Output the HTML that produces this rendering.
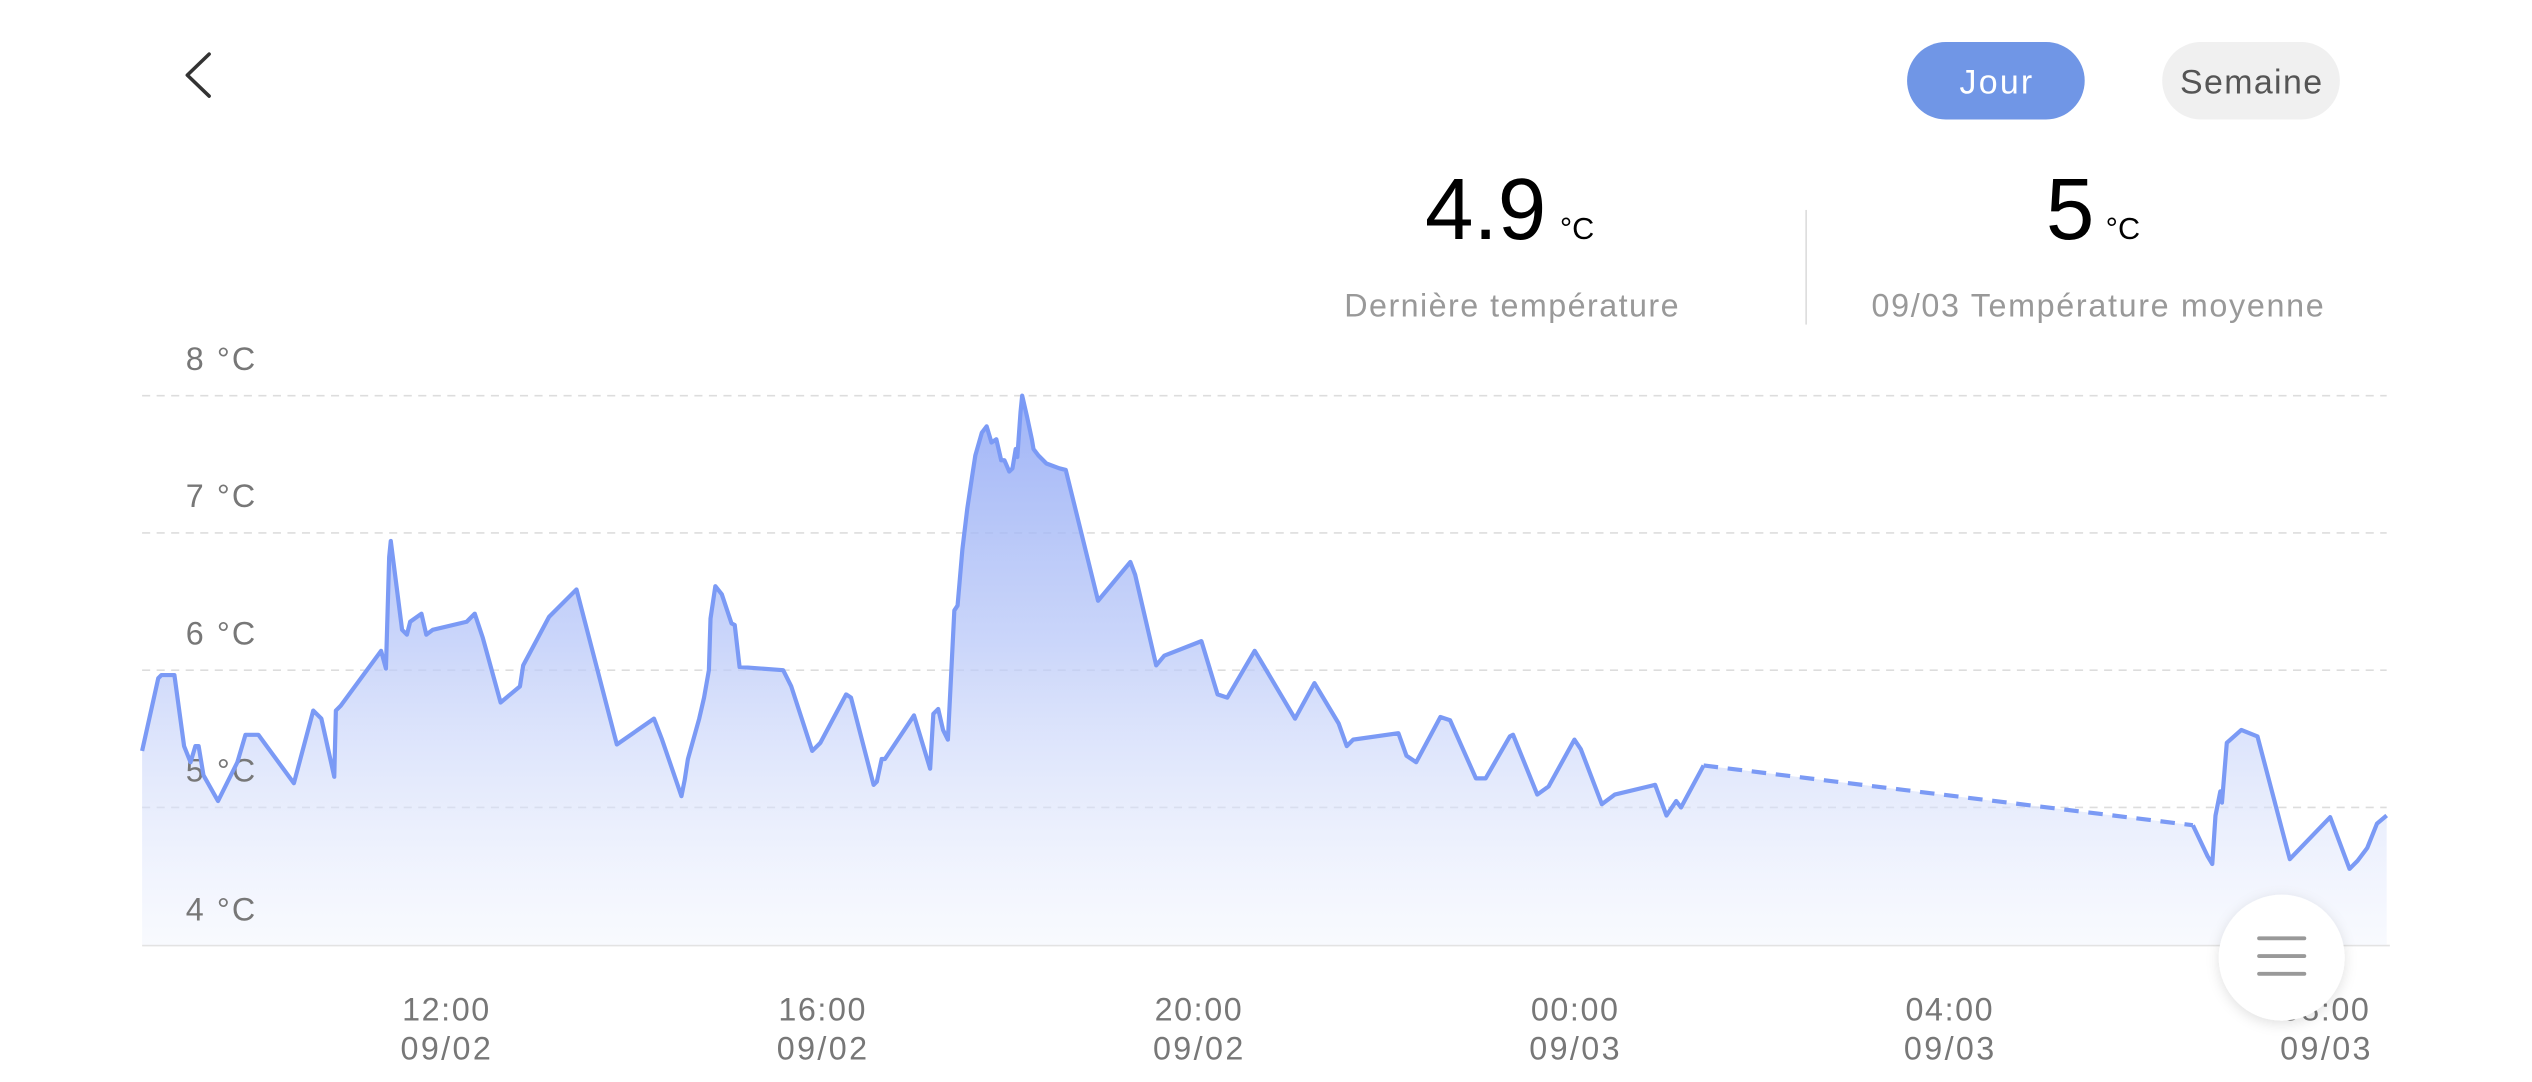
<!DOCTYPE html>
<html><head><meta charset="utf-8"><style>
html,body{margin:0;padding:0;background:#fff;width:2532px;height:1082px;overflow:hidden}
svg{display:block}
text{font-family:"Liberation Sans",sans-serif}
</style></head><body>
<svg width="2532" height="1082" viewBox="0 0 1568 670" preserveAspectRatio="none" xmlns="http://www.w3.org/2000/svg">
<defs>
<linearGradient id="g" x1="0" y1="245" x2="0" y2="585" gradientUnits="userSpaceOnUse">
<stop offset="0" stop-color="#8fa7f5" stop-opacity="0.85"/>
<stop offset="0.45" stop-color="#b9c8f8" stop-opacity="0.75"/>
<stop offset="1" stop-color="#eef2fd" stop-opacity="0.4"/>
</linearGradient>
<filter id="sh" x="-50%" y="-50%" width="200%" height="200%"><feDropShadow dx="0" dy="2" stdDeviation="4" flood-color="#000" flood-opacity="0.12"/></filter>
</defs>
<polyline points="129.5,33.5 116,46.5 129.5,59.5" fill="none" stroke="#333" stroke-width="2.2" stroke-linecap="round" stroke-linejoin="round"/>
<rect x="1181" y="26" width="110" height="48" rx="24" fill="#7096e6"/>
<text x="1236" y="58" font-size="21" fill="#fff" text-anchor="middle" textLength="45">Jour</text>
<rect x="1339" y="26" width="110" height="48" rx="24" fill="#f0f0f0"/>
<text x="1394" y="58" font-size="21" fill="#555" text-anchor="middle" textLength="88">Semaine</text>
<text x="920" y="148" font-size="54" fill="#000" text-anchor="middle">4.9</text>
<text x="966" y="148" font-size="19" fill="#000">°C</text>
<text x="936" y="196" font-size="20" fill="#999" text-anchor="middle" textLength="207">Dernière température</text>
<line x1="1118.5" y1="130" x2="1118.5" y2="201" stroke="#ddd" stroke-width="1"/>
<text x="1282" y="148" font-size="54" fill="#000" text-anchor="middle">5</text>
<text x="1304" y="148" font-size="19" fill="#000">°C</text>
<text x="1299" y="196" font-size="20" fill="#999" text-anchor="middle" textLength="280">09/03 Température moyenne</text>
<g stroke="#ddd" stroke-width="1" stroke-dasharray="5,4">
<line x1="88" y1="245" x2="1478" y2="245"/><line x1="88" y1="330" x2="1478" y2="330"/><line x1="88" y1="415" x2="1478" y2="415"/><line x1="88" y1="500" x2="1478" y2="500"/>
</g>
<line x1="88" y1="585.5" x2="1480" y2="585.5" stroke="#e3e3e3" stroke-width="1"/>
<path fill="url(#g)" d="M88,585 L88,465 98,420 100,418 108,418 114,462 118,472 121,462 123,462 126,480 135,496 147,472 152,455 160,455 182,485 194,440 199,445 207,481 208,440 211,437 236,403 239,414 241,345 242,335 249,390 252,393 254,385 261,380 264,393 268,390 289,385 294,380 299,395 310,435 322,425 324,412 340,382 357,365 382,461 405,445 410,458 422,493 424,483 426,470 433,445 436,432 439,415 440,383 443,363 447,368 453,386 455,387 458,413 485,415 490,425 503,465 508,460 524,430 527,432 541,486 543,484 546,470 548,470 566,443 576,476 578,442 581,439 584,452 587,458 591,378 593,375 596,340 599,315 602,295 604,282 608,268 611,264 614,274 617,272 620,285 622,285 625,292 627,290 629,278 630,283 632,255 633,245 636,258 639,272 640,278 643,282 648,287 656,290 660,291 680,372 700,348 703,356 716,412 721,406 744,397 754,430 760,432 777,403 780,408 802,445 814,423 829,448 834,462 838,458 866,454 871,468 877,472 892,444 898,446 914,482 920,482 935,456 937,455 952,492 959,487 975,458 979,464 992,498 1000,492 1025,486 1032,505 1038,496 1041,500 1055,474 1358,511 1367,530 1370,535 1372,505 1375,490 1376,497 1379,460 1388,452 1398,456 1418,532 1443,506 1455,538 1460,533 1466,525 1472,510 1478,505 L1478,585 Z"/>
<g font-size="20" fill="#777">
<text x="115" y="229" textLength="43">8 °C</text><text x="115" y="314" textLength="43">7 °C</text><text x="115" y="399" textLength="43">6 °C</text><text x="115" y="484" textLength="43">5 °C</text><text x="115" y="570" textLength="43">4 °C</text>
</g>
<polyline fill="none" stroke="#7b9af5" stroke-width="2.6" stroke-linejoin="round" points="88,465 98,420 100,418 108,418 114,462 118,472 121,462 123,462 126,480 135,496 147,472 152,455 160,455 182,485 194,440 199,445 207,481 208,440 211,437 236,403 239,414 241,345 242,335 249,390 252,393 254,385 261,380 264,393 268,390 289,385 294,380 299,395 310,435 322,425 324,412 340,382 357,365 382,461 405,445 410,458 422,493 424,483 426,470 433,445 436,432 439,415 440,383 443,363 447,368 453,386 455,387 458,413 485,415 490,425 503,465 508,460 524,430 527,432 541,486 543,484 546,470 548,470 566,443 576,476 578,442 581,439 584,452 587,458 591,378 593,375 596,340 599,315 602,295 604,282 608,268 611,264 614,274 617,272 620,285 622,285 625,292 627,290 629,278 630,283 632,255 633,245 636,258 639,272 640,278 643,282 648,287 656,290 660,291 680,372 700,348 703,356 716,412 721,406 744,397 754,430 760,432 777,403 780,408 802,445 814,423 829,448 834,462 838,458 866,454 871,468 877,472 892,444 898,446 914,482 920,482 935,456 937,455 952,492 959,487 975,458 979,464 992,498 1000,492 1025,486 1032,505 1038,496 1041,500 1055,474"/>
<line x1="1055" y1="474" x2="1358" y2="511" stroke="#7b9af5" stroke-width="2.6" stroke-dasharray="9,6"/>
<polyline fill="none" stroke="#7b9af5" stroke-width="2.6" stroke-linejoin="round" points="1358,511 1367,530 1370,535 1372,505 1375,490 1376,497 1379,460 1388,452 1398,456 1418,532 1443,506 1455,538 1460,533 1466,525 1472,510 1478,505"/>
<g font-size="20" fill="#777" text-anchor="middle">
<text x="276" y="632" textLength="54">12:00</text><text x="276" y="656" textLength="56">09/02</text>
<text x="509" y="632" textLength="54">16:00</text><text x="509" y="656" textLength="56">09/02</text>
<text x="742" y="632" textLength="54">20:00</text><text x="742" y="656" textLength="56">09/02</text>
<text x="975" y="632" textLength="54">00:00</text><text x="975" y="656" textLength="56">09/03</text>
<text x="1207" y="632" textLength="54">04:00</text><text x="1207" y="656" textLength="56">09/03</text>
<text x="1440" y="632" textLength="54">08:00</text><text x="1440" y="656" textLength="56">09/03</text>
</g>
<circle cx="1413" cy="593" r="39" fill="#fff" filter="url(#sh)"/>
<g stroke="#999" stroke-width="2.4" stroke-linecap="round">
<line x1="1399" y1="581" x2="1427" y2="581"/><line x1="1399" y1="592" x2="1427" y2="592"/><line x1="1399" y1="603" x2="1427" y2="603"/>
</g>
</svg>
</body></html>
